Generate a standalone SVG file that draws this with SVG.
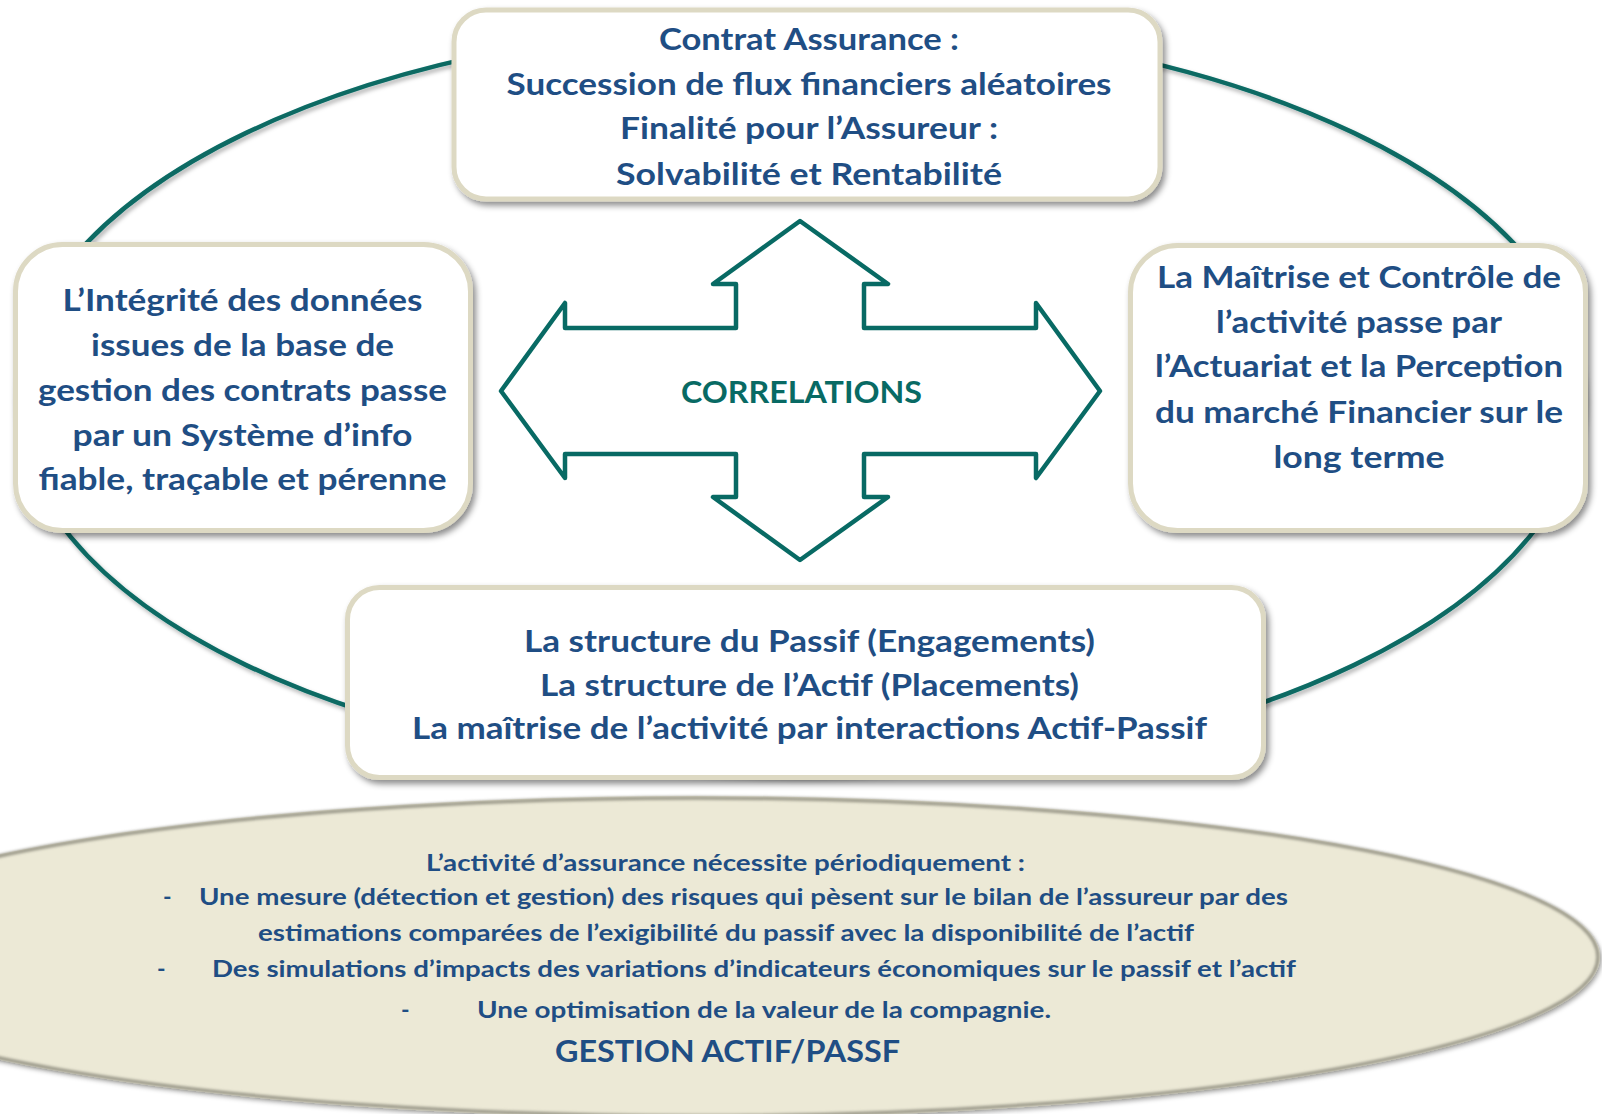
<svg xmlns="http://www.w3.org/2000/svg" width="1602" height="1114" viewBox="0 0 1602 1114">
<defs>
<filter id="sh" x="-10%" y="-10%" width="125%" height="130%">
<feDropShadow dx="3" dy="4" stdDeviation="3" flood-color="#000" flood-opacity="0.45"/>
</filter>
<filter id="shl" x="-5%" y="-5%" width="110%" height="115%">
<feDropShadow dx="2" dy="3" stdDeviation="2" flood-color="#000" flood-opacity="0.3"/>
</filter>
<filter id="soft" x="-5%" y="-10%" width="110%" height="120%">
<feGaussianBlur stdDeviation="1.5"/>
</filter>
<style>
.box{fill:#ffffff;stroke:#DDD9C3;stroke-width:5;filter:url(#sh)}
.t{font-family:Lato,"Open Sans","Liberation Sans",sans-serif;font-weight:bold;fill:#1F4E84;font-size:31px;text-anchor:middle}
.s{font-family:Lato,"Open Sans","Liberation Sans",sans-serif;font-weight:bold;fill:#1F4E84;font-size:23px}
.teal{fill:none;stroke:#086A64;stroke-width:4.5}
</style>
</defs>
<rect width="1602" height="1114" fill="#ffffff"/>

<g id="connectors">
<ellipse class="teal" cx="800" cy="399" rx="784" ry="376" filter="url(#shl)"/>
</g>

<g id="node-contrat">
<rect class="box" x="454" y="10" width="706" height="189" rx="32"/>
<text class="t" x="809" y="50" textLength="300" lengthAdjust="spacingAndGlyphs">Contrat Assurance :</text>
<text class="t" x="809" y="95" textLength="605" lengthAdjust="spacingAndGlyphs">Succession de flux financiers aléatoires</text>
<text class="t" x="809" y="139" textLength="378" lengthAdjust="spacingAndGlyphs">Finalité pour l’Assureur :</text>
<text class="t" x="809" y="185" textLength="386" lengthAdjust="spacingAndGlyphs">Solvabilité et Rentabilité</text>
</g>

<g id="node-integrite">
<rect class="box" x="15.5" y="244.5" width="455" height="286" rx="47"/>
<text class="t" x="242.5" y="311" textLength="360" lengthAdjust="spacingAndGlyphs">L’Intégrité des données</text>
<text class="t" x="242.5" y="356" textLength="303" lengthAdjust="spacingAndGlyphs">issues de la base de</text>
<text class="t" x="242.5" y="401" textLength="409" lengthAdjust="spacingAndGlyphs">gestion des contrats passe</text>
<text class="t" x="242.5" y="446" textLength="340" lengthAdjust="spacingAndGlyphs">par un Système d’info</text>
<text class="t" x="242.5" y="490" textLength="408" lengthAdjust="spacingAndGlyphs">fiable, traçable et pérenne</text>
</g>

<g id="node-maitrise">
<rect class="box" x="1130.5" y="245.5" width="455" height="285" rx="47"/>
<text class="t" x="1359" y="288" textLength="404" lengthAdjust="spacingAndGlyphs">La Maîtrise et Contrôle de</text>
<text class="t" x="1359" y="333" textLength="286" lengthAdjust="spacingAndGlyphs">l’activité passe par</text>
<text class="t" x="1359" y="377" textLength="408" lengthAdjust="spacingAndGlyphs">l’Actuariat et la Perception</text>
<text class="t" x="1359" y="423" textLength="408" lengthAdjust="spacingAndGlyphs">du marché Financier sur le</text>
<text class="t" x="1359" y="468" textLength="171" lengthAdjust="spacingAndGlyphs">long terme</text>
</g>

<g id="node-structure">
<rect class="box" x="347.5" y="587.5" width="916" height="190" rx="32"/>
<text class="t" x="809.5" y="652" textLength="571" lengthAdjust="spacingAndGlyphs">La structure du Passif (Engagements)</text>
<text class="t" x="809.5" y="696" textLength="539" lengthAdjust="spacingAndGlyphs">La structure de l’Actif (Placements)</text>
<text class="t" x="809.5" y="739" textLength="795" lengthAdjust="spacingAndGlyphs">La maîtrise de l’activité par interactions Actif-Passif</text>
</g>

<g id="node-correlations">
<path d="M800,221 L888,284 L864,284 L864,328 L1036,328 L1036,303 L1100,391 L1036,478 L1036,454 L864,454 L864,497 L888,497 L800,560 L713,497 L736,497 L736,454 L565,454 L565,478 L501,391 L565,303 L565,328 L736,328 L736,284 L713,284 Z" fill="#ffffff" stroke="#086A64" stroke-width="4.5" stroke-linejoin="round"/>
<text class="t" x="801.5" y="403" style="fill:#086A64" textLength="241" lengthAdjust="spacingAndGlyphs">CORRELATIONS</text>
</g>

<g id="node-gestion">
<ellipse cx="696" cy="957" rx="904" ry="161" fill="#ECE9D6" filter="url(#shl)"/>
<ellipse cx="696" cy="957" rx="902" ry="159" fill="none" stroke="#8e8c7e" stroke-width="3" filter="url(#soft)"/>
<text class="s" x="426" y="871" textLength="599" lengthAdjust="spacingAndGlyphs">L’activité d’assurance nécessite périodiquement :</text>
<text class="s" x="163" y="905">-</text>
<text class="s" x="199" y="905" textLength="1089" lengthAdjust="spacingAndGlyphs">Une mesure (détection et gestion) des risques qui pèsent sur le bilan de l’assureur par des</text>
<text class="s" x="258" y="941" textLength="936" lengthAdjust="spacingAndGlyphs">estimations comparées de l’exigibilité du passif avec la disponibilité de l’actif</text>
<text class="s" x="157" y="977">-</text>
<text class="s" x="212" y="977" textLength="1084" lengthAdjust="spacingAndGlyphs">Des simulations d’impacts des variations d’indicateurs économiques sur le passif et l’actif</text>
<text class="s" x="401" y="1018">-</text>
<text class="s" x="477" y="1018" textLength="574" lengthAdjust="spacingAndGlyphs">Une optimisation de la valeur de la compagnie.</text>
<text class="s" x="555" y="1062" style="font-size:30px" textLength="345" lengthAdjust="spacingAndGlyphs">GESTION ACTIF/PASSF</text>
</g>
</svg>
